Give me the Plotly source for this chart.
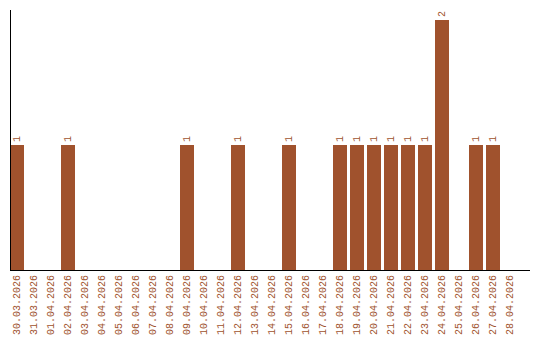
import plotly.graph_objects as go

dates = ["30.03.2026", "31.03.2026", "01.04.2026", "02.04.2026", "03.04.2026", "04.04.2026",
         "05.04.2026", "06.04.2026", "07.04.2026", "08.04.2026", "09.04.2026", "10.04.2026",
         "11.04.2026", "12.04.2026", "13.04.2026", "14.04.2026", "15.04.2026", "16.04.2026",
         "17.04.2026", "18.04.2026", "19.04.2026", "20.04.2026", "21.04.2026", "22.04.2026",
         "23.04.2026", "24.04.2026", "25.04.2026", "26.04.2026", "27.04.2026", "28.04.2026"]
counts = [1, 0, 0, 1, 0, 0, 0, 0, 0, 0, 1, 0, 0, 1, 0, 0, 1, 0, 0, 1, 1, 1, 1, 1, 1, 2, 0, 1, 1, 0]

color = "#A0522D"
labels = [str(v) if v > 0 else "" for v in counts]

fig = go.Figure(go.Bar(
    x=list(range(len(dates))), y=counts, marker=dict(color=color, line=dict(width=0)),
    text=labels, textposition="outside", textangle=-90, cliponaxis=False,
    textfont=dict(family="Liberation Mono", size=10, color=color),
    width=14/17,
))
fig.update_layout(
    width=540, height=340, margin=dict(l=11, r=10, t=10, b=70),
    paper_bgcolor="white", plot_bgcolor="white", showlegend=False,
    xaxis=dict(tickmode="array", tickvals=list(range(len(dates))), ticktext=dates,
               tickangle=-90, range=[-6/17, 513/17], showgrid=False, zeroline=False,
               showline=True, linecolor="black", linewidth=1, ticks="", automargin=False,
               tickfont=dict(family="Liberation Mono", size=10, color=color)),
    yaxis=dict(range=[0, 2.08], showgrid=False, zeroline=False, showline=True, automargin=False,
               linecolor="black", linewidth=1, showticklabels=False, ticks=""),
)
fig.write_html("out.html")
